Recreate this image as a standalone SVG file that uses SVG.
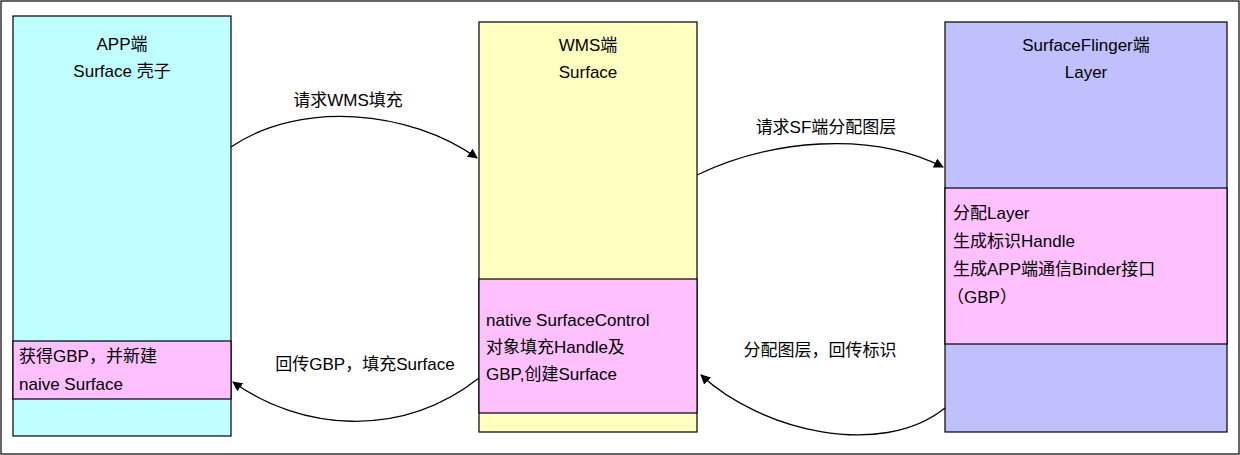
<svg xmlns="http://www.w3.org/2000/svg" width="1240" height="455" viewBox="0 0 1240 455">
<style>
text{font-family:"Liberation Sans","Noto Sans CJK SC",sans-serif;font-size:17px;fill:#000}
.b{stroke:#000;stroke-width:1.2}
.c{fill:none;stroke:#000;stroke-width:1.3;marker-end:url(#a)}
</style>
<defs><marker id="a" viewBox="0 0 10 10" refX="9" refY="5" markerWidth="10" markerHeight="10" markerUnits="userSpaceOnUse" orient="auto"><path d="M0,0L10,5L0,10z" fill="#000"/></marker></defs>
<rect x="1" y="1" width="1238" height="453" fill="#fff" stroke="#000" stroke-width="1.2"/>
<g id="app">
<rect class="b" x="13" y="16" width="218" height="420" fill="#BFFFFF"/>
<rect class="b" x="13" y="341" width="218" height="58" fill="#FFC0FF"/>
<text x="122" y="50" text-anchor="middle">APP端</text>
<text x="122" y="77" text-anchor="middle">Surface 壳子</text>
<text x="19" y="362">获得GBP，并新建</text>
<text x="19" y="390">naive Surface</text>
</g>
<g id="wms">
<rect class="b" x="479" y="22" width="218" height="410" fill="#FFFFC0"/>
<rect class="b" x="479" y="279" width="218" height="134" fill="#FFC0FF"/>
<text x="588" y="51" text-anchor="middle">WMS端</text>
<text x="588" y="78" text-anchor="middle">Surface</text>
<text x="486" y="326">native SurfaceControl</text>
<text x="486" y="353">对象填充Handle及</text>
<text x="486" y="380">GBP,创建Surface</text>
</g>
<g id="sf">
<rect class="b" x="945" y="22" width="282" height="410" fill="#C0C0FF"/>
<rect class="b" x="945" y="188" width="282" height="156" fill="#FFC0FF"/>
<text x="1086" y="51" text-anchor="middle">SurfaceFlinger端</text>
<text x="1086" y="78" text-anchor="middle">Layer</text>
<text x="953" y="219">分配Layer</text>
<text x="953" y="247">生成标识Handle</text>
<text x="953" y="275">生成APP端通信Binder接口</text>
<text x="947" y="303">（GBP）</text>
</g>
<g id="connectors">
<path class="c" d="M231,147C300,100 410,110 477,158"/>
<path class="c" d="M697,175C770,140 870,130 943,167"/>
<path class="c" d="M945,408C880,460 760,430 701,375"/>
<path class="c" d="M479,378C400,440 300,430 233,382"/>
<text x="348" y="106" text-anchor="middle">请求WMS填充</text>
<text x="826" y="133" text-anchor="middle">请求SF端分配图层</text>
<text x="820" y="356" text-anchor="middle">分配图层，回传标识</text>
<text x="365" y="370" text-anchor="middle">回传GBP，填充Surface</text>
</g>
</svg>
